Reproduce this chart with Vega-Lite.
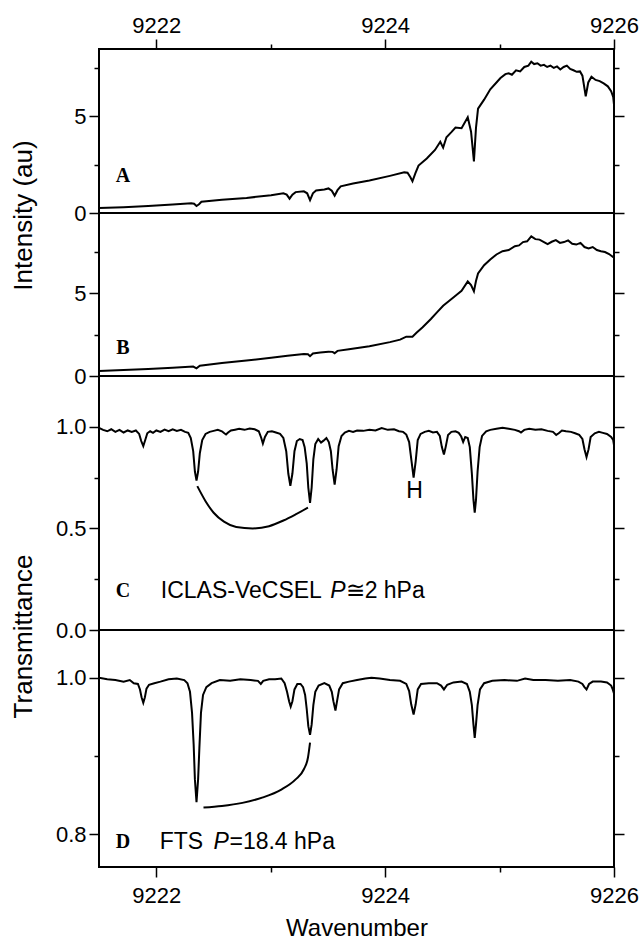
{
  "$schema": "https://vega.github.io/schema/vega-lite/v6.json",
  "padding": {"left": 9, "top": 13, "right": 4, "bottom": 5},
  "background": "white",
  "spacing": 0,
  "bounds": "flush",
  "config": {
    "view": {"stroke": "black", "strokeWidth": 2},
    "font": "Liberation Sans",
    "axis": {"domain": false, "grid": false, "tickColor": "black", "tickWidth": 1.5, "labelFont": "Liberation Sans", "labelFontSize": 22, "labelColor": "black", "titleFont": "Liberation Sans", "titleFontSize": 26, "titleFontWeight": "normal", "titleColor": "black", "labelFlush": false}
  },
  "datasets": {
    "A": [
      {"x":9221.500,"y":0.26},{"x":9221.715,"y":0.30},{"x":9221.930,"y":0.36},{"x":9222.144,"y":0.44},{"x":9222.306,"y":0.50},{"x":9222.331,"y":0.48},{"x":9222.352,"y":0.36},{"x":9222.374,"y":0.45},{"x":9222.395,"y":0.58},{"x":9222.574,"y":0.68},{"x":9222.789,"y":0.78},{"x":9223.004,"y":0.92},{"x":9223.111,"y":1.02},{"x":9223.140,"y":0.95},{"x":9223.165,"y":0.74},{"x":9223.190,"y":0.95},{"x":9223.218,"y":1.08},{"x":9223.290,"y":1.12},{"x":9223.319,"y":1.02},{"x":9223.344,"y":0.66},{"x":9223.369,"y":1.02},{"x":9223.397,"y":1.16},{"x":9223.469,"y":1.22},{"x":9223.505,"y":1.27},{"x":9223.534,"y":1.15},{"x":9223.559,"y":0.90},{"x":9223.584,"y":1.18},{"x":9223.612,"y":1.38},{"x":9223.720,"y":1.52},{"x":9223.863,"y":1.68},{"x":9224.042,"y":1.92},{"x":9224.167,"y":2.10},{"x":9224.196,"y":2.08},{"x":9224.221,"y":1.85},{"x":9224.239,"y":1.64},{"x":9224.264,"y":2.05},{"x":9224.292,"y":2.45},{"x":9224.364,"y":2.82},{"x":9224.436,"y":3.26},{"x":9224.482,"y":3.68},{"x":9224.507,"y":3.38},{"x":9224.536,"y":3.92},{"x":9224.579,"y":4.18},{"x":9224.615,"y":4.42},{"x":9224.668,"y":4.38},{"x":9224.722,"y":4.95},{"x":9224.751,"y":4.2},{"x":9224.776,"y":2.67},{"x":9224.794,"y":4.4},{"x":9224.812,"y":5.40},{"x":9224.865,"y":5.86},{"x":9224.919,"y":6.40},{"x":9224.973,"y":6.75},{"x":9225.008,"y":6.98},{"x":9225.051,"y":7.18},{"x":9225.080,"y":7.22},{"x":9225.108,"y":7.15},{"x":9225.144,"y":7.38},{"x":9225.180,"y":7.32},{"x":9225.216,"y":7.55},{"x":9225.252,"y":7.62},{"x":9225.277,"y":7.82},{"x":9225.302,"y":7.70},{"x":9225.331,"y":7.74},{"x":9225.359,"y":7.62},{"x":9225.388,"y":7.66},{"x":9225.416,"y":7.55},{"x":9225.445,"y":7.62},{"x":9225.474,"y":7.50},{"x":9225.502,"y":7.58},{"x":9225.531,"y":7.42},{"x":9225.560,"y":7.55},{"x":9225.588,"y":7.62},{"x":9225.617,"y":7.45},{"x":9225.646,"y":7.38},{"x":9225.674,"y":7.30},{"x":9225.703,"y":7.32},{"x":9225.724,"y":7.10},{"x":9225.753,"y":6.03},{"x":9225.775,"y":6.75},{"x":9225.803,"y":7.05},{"x":9225.839,"y":6.88},{"x":9225.875,"y":6.82},{"x":9225.910,"y":6.70},{"x":9225.946,"y":6.55},{"x":9225.975,"y":6.30},{"x":9225.993,"y":6.0},{"x":9226.000,"y":5.6}
    ],
    "B": [
      {"x":9221.500,"y":0.30},{"x":9221.715,"y":0.36},{"x":9221.930,"y":0.42},{"x":9222.144,"y":0.50},{"x":9222.323,"y":0.57},{"x":9222.352,"y":0.46},{"x":9222.381,"y":0.62},{"x":9222.574,"y":0.78},{"x":9222.789,"y":0.94},{"x":9223.004,"y":1.10},{"x":9223.147,"y":1.22},{"x":9223.290,"y":1.33},{"x":9223.326,"y":1.32},{"x":9223.344,"y":1.20},{"x":9223.369,"y":1.36},{"x":9223.433,"y":1.42},{"x":9223.505,"y":1.47},{"x":9223.541,"y":1.46},{"x":9223.559,"y":1.38},{"x":9223.584,"y":1.52},{"x":9223.684,"y":1.62},{"x":9223.863,"y":1.80},{"x":9224.042,"y":2.05},{"x":9224.131,"y":2.20},{"x":9224.185,"y":2.38},{"x":9224.239,"y":2.38},{"x":9224.274,"y":2.62},{"x":9224.328,"y":2.95},{"x":9224.400,"y":3.45},{"x":9224.453,"y":3.85},{"x":9224.507,"y":4.25},{"x":9224.561,"y":4.55},{"x":9224.615,"y":4.85},{"x":9224.668,"y":5.15},{"x":9224.722,"y":5.72},{"x":9224.751,"y":5.5},{"x":9224.776,"y":5.12},{"x":9224.794,"y":5.75},{"x":9224.812,"y":6.20},{"x":9224.865,"y":6.70},{"x":9224.919,"y":7.05},{"x":9224.973,"y":7.35},{"x":9225.026,"y":7.55},{"x":9225.080,"y":7.62},{"x":9225.134,"y":7.85},{"x":9225.170,"y":7.90},{"x":9225.205,"y":8.10},{"x":9225.241,"y":8.15},{"x":9225.277,"y":8.45},{"x":9225.313,"y":8.28},{"x":9225.349,"y":8.25},{"x":9225.384,"y":8.12},{"x":9225.420,"y":7.98},{"x":9225.456,"y":8.12},{"x":9225.492,"y":8.22},{"x":9225.528,"y":8.05},{"x":9225.563,"y":8.10},{"x":9225.599,"y":8.20},{"x":9225.635,"y":8.00},{"x":9225.671,"y":7.95},{"x":9225.707,"y":8.05},{"x":9225.742,"y":7.80},{"x":9225.778,"y":7.72},{"x":9225.814,"y":7.80},{"x":9225.850,"y":7.62},{"x":9225.886,"y":7.55},{"x":9225.921,"y":7.50},{"x":9225.957,"y":7.38},{"x":9226.000,"y":7.15}
    ],
    "C": [
      {"x":9221.500,"y":0.995},{"x":9221.536,"y":0.985},{"x":9221.572,"y":0.978},{"x":9221.607,"y":0.988},{"x":9221.643,"y":0.975},{"x":9221.679,"y":0.985},{"x":9221.715,"y":0.972},{"x":9221.751,"y":0.982},{"x":9221.786,"y":0.975},{"x":9221.822,"y":0.982},{"x":9221.851,"y":0.965},{"x":9221.869,"y":0.93},{"x":9221.887,"y":0.905},{"x":9221.904,"y":0.935},{"x":9221.922,"y":0.968},{"x":9221.947,"y":0.978},{"x":9221.972,"y":0.970},{"x":9222.001,"y":0.982},{"x":9222.037,"y":0.975},{"x":9222.073,"y":0.986},{"x":9222.108,"y":0.978},{"x":9222.144,"y":0.988},{"x":9222.180,"y":0.980},{"x":9222.216,"y":0.985},{"x":9222.252,"y":0.975},{"x":9222.280,"y":0.970},{"x":9222.302,"y":0.945},{"x":9222.323,"y":0.88},{"x":9222.338,"y":0.78},{"x":9222.352,"y":0.735},{"x":9222.366,"y":0.78},{"x":9222.381,"y":0.87},{"x":9222.402,"y":0.935},{"x":9222.431,"y":0.965},{"x":9222.467,"y":0.975},{"x":9222.502,"y":0.980},{"x":9222.538,"y":0.985},{"x":9222.574,"y":0.978},{"x":9222.595,"y":0.968},{"x":9222.610,"y":0.962},{"x":9222.628,"y":0.972},{"x":9222.653,"y":0.982},{"x":9222.689,"y":0.986},{"x":9222.724,"y":0.990},{"x":9222.771,"y":0.985},{"x":9222.817,"y":0.992},{"x":9222.860,"y":0.988},{"x":9222.896,"y":0.978},{"x":9222.918,"y":0.945},{"x":9222.932,"y":0.918},{"x":9222.950,"y":0.950},{"x":9222.975,"y":0.975},{"x":9223.011,"y":0.978},{"x":9223.046,"y":0.972},{"x":9223.082,"y":0.965},{"x":9223.111,"y":0.945},{"x":9223.136,"y":0.88},{"x":9223.154,"y":0.77},{"x":9223.172,"y":0.71},{"x":9223.190,"y":0.77},{"x":9223.208,"y":0.88},{"x":9223.229,"y":0.930},{"x":9223.254,"y":0.940},{"x":9223.279,"y":0.935},{"x":9223.297,"y":0.90},{"x":9223.315,"y":0.82},{"x":9223.329,"y":0.70},{"x":9223.344,"y":0.626},{"x":9223.358,"y":0.70},{"x":9223.373,"y":0.84},{"x":9223.390,"y":0.915},{"x":9223.415,"y":0.94},{"x":9223.440,"y":0.922},{"x":9223.462,"y":0.932},{"x":9223.487,"y":0.945},{"x":9223.508,"y":0.925},{"x":9223.526,"y":0.88},{"x":9223.541,"y":0.79},{"x":9223.559,"y":0.716},{"x":9223.576,"y":0.79},{"x":9223.594,"y":0.905},{"x":9223.619,"y":0.955},{"x":9223.648,"y":0.972},{"x":9223.684,"y":0.980},{"x":9223.720,"y":0.975},{"x":9223.755,"y":0.982},{"x":9223.809,"y":0.980},{"x":9223.863,"y":0.985},{"x":9223.916,"y":0.982},{"x":9223.970,"y":0.994},{"x":9224.024,"y":0.985},{"x":9224.078,"y":0.988},{"x":9224.121,"y":0.978},{"x":9224.157,"y":0.975},{"x":9224.185,"y":0.962},{"x":9224.210,"y":0.925},{"x":9224.231,"y":0.83},{"x":9224.249,"y":0.75},{"x":9224.267,"y":0.83},{"x":9224.285,"y":0.935},{"x":9224.310,"y":0.965},{"x":9224.346,"y":0.975},{"x":9224.382,"y":0.980},{"x":9224.418,"y":0.972},{"x":9224.453,"y":0.975},{"x":9224.478,"y":0.955},{"x":9224.496,"y":0.90},{"x":9224.514,"y":0.864},{"x":9224.529,"y":0.90},{"x":9224.550,"y":0.960},{"x":9224.579,"y":0.975},{"x":9224.615,"y":0.978},{"x":9224.643,"y":0.970},{"x":9224.665,"y":0.952},{"x":9224.682,"y":0.925},{"x":9224.700,"y":0.950},{"x":9224.722,"y":0.945},{"x":9224.740,"y":0.90},{"x":9224.758,"y":0.77},{"x":9224.772,"y":0.64},{"x":9224.783,"y":0.577},{"x":9224.794,"y":0.64},{"x":9224.808,"y":0.78},{"x":9224.826,"y":0.90},{"x":9224.847,"y":0.955},{"x":9224.883,"y":0.978},{"x":9224.919,"y":0.985},{"x":9224.973,"y":0.990},{"x":9225.026,"y":0.995},{"x":9225.080,"y":0.990},{"x":9225.134,"y":0.985},{"x":9225.170,"y":0.978},{"x":9225.187,"y":0.972},{"x":9225.216,"y":0.985},{"x":9225.259,"y":0.990},{"x":9225.313,"y":0.985},{"x":9225.366,"y":0.988},{"x":9225.420,"y":0.980},{"x":9225.467,"y":0.975},{"x":9225.495,"y":0.960},{"x":9225.517,"y":0.968},{"x":9225.545,"y":0.982},{"x":9225.581,"y":0.978},{"x":9225.624,"y":0.975},{"x":9225.660,"y":0.968},{"x":9225.696,"y":0.960},{"x":9225.724,"y":0.940},{"x":9225.742,"y":0.89},{"x":9225.760,"y":0.851},{"x":9225.778,"y":0.89},{"x":9225.796,"y":0.950},{"x":9225.832,"y":0.968},{"x":9225.868,"y":0.975},{"x":9225.903,"y":0.970},{"x":9225.939,"y":0.965},{"x":9225.975,"y":0.950},{"x":9225.993,"y":0.935},{"x":9226.000,"y":0.91}
    ],
    "D": [
      {"x":9221.500,"y":1.000},{"x":9221.572,"y":0.998},{"x":9221.643,"y":0.997},{"x":9221.715,"y":0.995},{"x":9221.769,"y":0.997},{"x":9221.804,"y":0.993},{"x":9221.840,"y":0.992},{"x":9221.858,"y":0.985},{"x":9221.872,"y":0.975},{"x":9221.887,"y":0.968},{"x":9221.901,"y":0.975},{"x":9221.915,"y":0.986},{"x":9221.937,"y":0.991},{"x":9221.983,"y":0.993},{"x":9222.037,"y":0.995},{"x":9222.108,"y":0.998},{"x":9222.180,"y":0.999},{"x":9222.245,"y":0.997},{"x":9222.273,"y":0.993},{"x":9222.295,"y":0.982},{"x":9222.313,"y":0.955},{"x":9222.327,"y":0.915},{"x":9222.338,"y":0.87},{"x":9222.352,"y":0.841},{"x":9222.366,"y":0.87},{"x":9222.377,"y":0.91},{"x":9222.391,"y":0.955},{"x":9222.409,"y":0.978},{"x":9222.438,"y":0.988},{"x":9222.484,"y":0.993},{"x":9222.556,"y":0.997},{"x":9222.646,"y":0.996},{"x":9222.735,"y":0.998},{"x":9222.825,"y":0.997},{"x":9222.889,"y":0.996},{"x":9222.914,"y":0.992},{"x":9222.935,"y":0.996},{"x":9222.986,"y":0.998},{"x":9223.039,"y":0.998},{"x":9223.093,"y":0.999},{"x":9223.122,"y":0.993},{"x":9223.143,"y":0.982},{"x":9223.161,"y":0.970},{"x":9223.175,"y":0.963},{"x":9223.190,"y":0.970},{"x":9223.208,"y":0.985},{"x":9223.233,"y":0.992},{"x":9223.261,"y":0.992},{"x":9223.283,"y":0.988},{"x":9223.301,"y":0.978},{"x":9223.315,"y":0.960},{"x":9223.329,"y":0.938},{"x":9223.344,"y":0.927},{"x":9223.358,"y":0.940},{"x":9223.373,"y":0.965},{"x":9223.390,"y":0.982},{"x":9223.419,"y":0.990},{"x":9223.469,"y":0.993},{"x":9223.512,"y":0.990},{"x":9223.534,"y":0.982},{"x":9223.548,"y":0.970},{"x":9223.566,"y":0.958},{"x":9223.580,"y":0.970},{"x":9223.598,"y":0.985},{"x":9223.630,"y":0.993},{"x":9223.684,"y":0.995},{"x":9223.755,"y":0.997},{"x":9223.827,"y":0.999},{"x":9223.881,"y":1.000},{"x":9223.952,"y":0.999},{"x":9224.042,"y":0.997},{"x":9224.131,"y":0.996},{"x":9224.185,"y":0.992},{"x":9224.210,"y":0.983},{"x":9224.228,"y":0.966},{"x":9224.249,"y":0.953},{"x":9224.267,"y":0.966},{"x":9224.285,"y":0.985},{"x":9224.314,"y":0.992},{"x":9224.382,"y":0.993},{"x":9224.453,"y":0.993},{"x":9224.489,"y":0.990},{"x":9224.514,"y":0.985},{"x":9224.543,"y":0.991},{"x":9224.597,"y":0.994},{"x":9224.668,"y":0.995},{"x":9224.715,"y":0.992},{"x":9224.740,"y":0.982},{"x":9224.758,"y":0.965},{"x":9224.772,"y":0.940},{"x":9224.783,"y":0.923},{"x":9224.794,"y":0.940},{"x":9224.808,"y":0.965},{"x":9224.829,"y":0.985},{"x":9224.865,"y":0.993},{"x":9224.937,"y":0.996},{"x":9225.044,"y":0.997},{"x":9225.152,"y":0.996},{"x":9225.223,"y":0.999},{"x":9225.295,"y":0.997},{"x":9225.402,"y":0.997},{"x":9225.510,"y":0.996},{"x":9225.617,"y":0.997},{"x":9225.689,"y":0.995},{"x":9225.724,"y":0.992},{"x":9225.742,"y":0.988},{"x":9225.760,"y":0.985},{"x":9225.782,"y":0.992},{"x":9225.814,"y":0.995},{"x":9225.886,"y":0.995},{"x":9225.939,"y":0.994},{"x":9225.975,"y":0.990},{"x":9225.989,"y":0.985},{"x":9226.000,"y":0.980}
    ],
    "arcC": [
      {"x":9222.359,"y":0.708},{"x":9222.431,"y":0.634},{"x":9222.502,"y":0.577},{"x":9222.592,"y":0.533},{"x":9222.699,"y":0.507},{"x":9222.843,"y":0.500},{"x":9222.986,"y":0.511},{"x":9223.111,"y":0.539},{"x":9223.218,"y":0.569},{"x":9223.326,"y":0.602}
    ],
    "arcD": [
      {"x":9222.413,"y":0.834},{"x":9222.574,"y":0.836},{"x":9222.753,"y":0.840},{"x":9222.932,"y":0.847},{"x":9223.093,"y":0.857},{"x":9223.218,"y":0.870},{"x":9223.290,"y":0.883},{"x":9223.326,"y":0.898},{"x":9223.344,"y":0.917}
    ]
  },
  "vconcat": [
    {
      "width": 515, "height": 164,
      "resolve": {"axis": {"x": "independent", "y": "independent"}},
      "layer": [
        {
          "data": {"name": "A"},
          "mark": {"type": "line", "color": "black", "strokeWidth": 2, "clip": true},
          "encoding": {
            "x": {"field": "x", "type": "quantitative", "scale": {"domain": [9221.5, 9226], "nice": false, "zero": false},
              "axis": {"orient": "top", "values": [9222, 9223, 9224, 9225, 9226], "labelExpr": "datum.value % 2 == 0 ? format(datum.value, 'd') : ''", "tickSize": {"condition": {"test": "datum.value % 2 != 0", "value": 5}, "value": 10}, "labelPadding": 2, "title": null}},
            "y": {"field": "y", "type": "quantitative", "scale": {"domain": [0, 8.48], "nice": false, "zero": false},
              "axis": {"orient": "left", "values": [0, 2.5, 5, 7.5], "labelExpr": "datum.value % 5 == 0 ? format(datum.value, 'd') : ''", "tickSize": {"condition": {"test": "datum.value % 5 != 0", "value": 5}, "value": 10}, "labelPadding": 3, "title": "Intensity (au)", "titleX": -76, "titleY": 166, "titleAngle": 270, "titleAlign": "center", "titleBaseline": "middle"}}
          }
        },
        {
          "data": {"values": [{"x": 9221.71, "y": 1.9, "t": "A"}]},
          "mark": {"type": "text", "font": "Liberation Serif", "fontWeight": "bold", "fontSize": 20, "align": "center", "baseline": "middle", "color": "black"},
          "encoding": {
            "x": {"field": "x", "type": "quantitative", "axis": null},
            "y": {"field": "y", "type": "quantitative", "axis": {"orient": "right", "values": [0, 2.5, 5, 7.5], "labels": false, "tickSize": {"condition": {"test": "datum.value % 5 != 0", "value": 5}, "value": 10}, "title": null}},
            "text": {"field": "t"}
          }
        }
      ]
    },
    {
      "width": 515, "height": 163,
      "resolve": {"axis": {"x": "independent", "y": "independent"}},
      "layer": [
        {
          "data": {"name": "B"},
          "mark": {"type": "line", "color": "black", "strokeWidth": 2, "clip": true},
          "encoding": {
            "x": {"field": "x", "type": "quantitative", "scale": {"domain": [9221.5, 9226], "nice": false, "zero": false}, "axis": null},
            "y": {"field": "y", "type": "quantitative", "scale": {"domain": [0, 9.86], "nice": false, "zero": false},
              "axis": {"orient": "left", "values": [0, 2.5, 5, 7.5], "labelExpr": "datum.value % 5 == 0 ? format(datum.value, 'd') : ''", "tickSize": {"condition": {"test": "datum.value % 5 != 0", "value": 5}, "value": 10}, "labelPadding": 3, "title": null}}
          }
        },
        {
          "data": {"values": [{"x": 9221.71, "y": 1.71, "t": "B"}]},
          "mark": {"type": "text", "font": "Liberation Serif", "fontWeight": "bold", "fontSize": 20, "align": "center", "baseline": "middle", "color": "black"},
          "encoding": {
            "x": {"field": "x", "type": "quantitative", "axis": null},
            "y": {"field": "y", "type": "quantitative", "axis": {"orient": "right", "values": [0, 2.5, 5, 7.5], "labels": false, "tickSize": {"condition": {"test": "datum.value % 5 != 0", "value": 5}, "value": 10}, "title": null}},
            "text": {"field": "t"}
          }
        }
      ]
    },
    {
      "width": 515, "height": 254,
      "resolve": {"axis": {"x": "independent", "y": "independent"}},
      "layer": [
        {
          "data": {"name": "C"},
          "mark": {"type": "line", "color": "black", "strokeWidth": 2, "clip": true},
          "encoding": {
            "x": {"field": "x", "type": "quantitative", "scale": {"domain": [9221.5, 9226], "nice": false, "zero": false}, "axis": null},
            "y": {"field": "y", "type": "quantitative", "scale": {"domain": [0, 1.25], "nice": false, "zero": false},
              "axis": {"orient": "left", "values": [0, 0.25, 0.5, 0.75, 1.0], "labelExpr": "round(datum.value * 4) % 2 == 0 ? format(datum.value, '.1f') : ''", "tickSize": {"condition": {"test": "round(datum.value * 4) % 2 != 0", "value": 5}, "value": 10}, "labelPadding": 3, "title": "Transmittance", "titleX": -76, "titleY": 260, "titleAngle": 270, "titleAlign": "center", "titleBaseline": "middle"}}
          }
        },
        {
          "data": {"name": "arcC"},
          "mark": {"type": "line", "color": "black", "strokeWidth": 2, "interpolate": "monotone"},
          "encoding": {
            "x": {"field": "x", "type": "quantitative", "axis": null},
            "y": {"field": "y", "type": "quantitative", "axis": null}
          }
        },
        {
          "data": {"values": [{"x": 9221.71, "y": 0.19, "t": "C"}]},
          "mark": {"type": "text", "font": "Liberation Serif", "fontWeight": "bold", "fontSize": 20, "align": "center", "baseline": "middle", "color": "black"},
          "encoding": {
            "x": {"field": "x", "type": "quantitative", "axis": null},
            "y": {"field": "y", "type": "quantitative", "axis": {"orient": "right", "values": [0, 0.25, 0.5, 0.75, 1.0], "labels": false, "tickSize": {"condition": {"test": "round(datum.value * 4) % 2 != 0", "value": 5}, "value": 10}, "title": null}},
            "text": {"field": "t"}
          }
        },
        {
          "data": {"values": [{"x": 9222.04, "y": 0.19, "t": "ICLAS-VeCSEL"}, {"x": 9223.655, "y": 0.19, "t": "≅2 hPa"}]},
          "mark": {"type": "text", "font": "Liberation Sans", "fontSize": 23, "align": "left", "baseline": "middle", "color": "black"},
          "encoding": {
            "x": {"field": "x", "type": "quantitative", "axis": null},
            "y": {"field": "y", "type": "quantitative", "axis": null},
            "text": {"field": "t"}
          }
        },
        {
          "data": {"values": [{"x": 9223.52, "y": 0.19, "t": "P"}]},
          "mark": {"type": "text", "font": "Liberation Sans", "fontSize": 23, "fontStyle": "italic", "align": "left", "baseline": "middle", "color": "black"},
          "encoding": {
            "x": {"field": "x", "type": "quantitative", "axis": null},
            "y": {"field": "y", "type": "quantitative", "axis": null},
            "text": {"field": "t"}
          }
        },
        {
          "data": {"values": [{"x": 9224.257, "y": 0.684, "t": "H"}]},
          "mark": {"type": "text", "font": "Liberation Sans", "fontSize": 23, "align": "center", "baseline": "middle", "color": "black"},
          "encoding": {
            "x": {"field": "x", "type": "quantitative", "axis": null},
            "y": {"field": "y", "type": "quantitative", "axis": null},
            "text": {"field": "t"}
          }
        }
      ]
    },
    {
      "width": 515, "height": 237,
      "resolve": {"axis": {"x": "independent", "y": "independent"}},
      "layer": [
        {
          "data": {"name": "D"},
          "mark": {"type": "line", "color": "black", "strokeWidth": 2, "clip": true},
          "encoding": {
            "x": {"field": "x", "type": "quantitative", "scale": {"domain": [9221.5, 9226], "nice": false, "zero": false},
              "axis": {"orient": "bottom", "values": [9222, 9223, 9224, 9225, 9226], "labelExpr": "datum.value % 2 == 0 ? format(datum.value, 'd') : ''", "tickSize": {"condition": {"test": "datum.value % 2 != 0", "value": 5}, "value": 10}, "labelPadding": 8, "title": "Wavenumber", "titleFontSize": 24, "titlePadding": 10}},
            "y": {"field": "y", "type": "quantitative", "scale": {"domain": [0.758, 1.061], "nice": false, "zero": false},
              "axis": {"orient": "left", "values": [0.8, 0.9, 1.0], "labelExpr": "abs(datum.value - 0.9) > 0.01 ? format(datum.value, '.1f') : ''", "tickSize": {"condition": {"test": "abs(datum.value - 0.9) < 0.01", "value": 5}, "value": 10}, "labelPadding": 3, "title": null}}
          }
        },
        {
          "data": {"name": "arcD"},
          "mark": {"type": "line", "color": "black", "strokeWidth": 2, "interpolate": "monotone"},
          "encoding": {
            "x": {"field": "x", "type": "quantitative", "axis": null},
            "y": {"field": "y", "type": "quantitative", "axis": null}
          }
        },
        {
          "data": {"values": [{"x": 9221.71, "y": 0.79, "t": "D"}]},
          "mark": {"type": "text", "font": "Liberation Serif", "fontWeight": "bold", "fontSize": 20, "align": "center", "baseline": "middle", "color": "black"},
          "encoding": {
            "x": {"field": "x", "type": "quantitative", "axis": null},
            "y": {"field": "y", "type": "quantitative", "axis": {"orient": "right", "values": [0.8, 0.9, 1.0], "labels": false, "tickSize": {"condition": {"test": "abs(datum.value - 0.9) < 0.01", "value": 5}, "value": 10}, "title": null}},
            "text": {"field": "t"}
          }
        },
        {
          "data": {"values": [{"x": 9222.03, "y": 0.79, "t": "FTS"}, {"x": 9222.64, "y": 0.79, "t": "=18.4 hPa"}]},
          "mark": {"type": "text", "font": "Liberation Sans", "fontSize": 23, "align": "left", "baseline": "middle", "color": "black"},
          "encoding": {
            "x": {"field": "x", "type": "quantitative", "axis": null},
            "y": {"field": "y", "type": "quantitative", "axis": null},
            "text": {"field": "t"}
          }
        },
        {
          "data": {"values": [{"x": 9222.50, "y": 0.79, "t": "P"}]},
          "mark": {"type": "text", "font": "Liberation Sans", "fontSize": 23, "fontStyle": "italic", "align": "left", "baseline": "middle", "color": "black"},
          "encoding": {
            "x": {"field": "x", "type": "quantitative", "axis": null},
            "y": {"field": "y", "type": "quantitative", "axis": null},
            "text": {"field": "t"}
          }
        }
      ]
    }
  ]
}
